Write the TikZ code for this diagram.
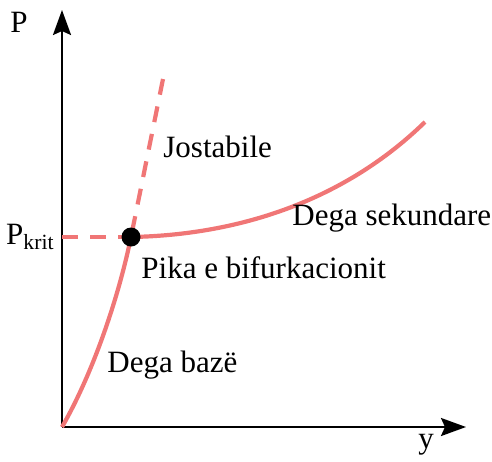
\documentclass[tikz,border=0pt]{standalone}
\usepackage{fontspec}
\setmainfont{Liberation Serif}
\usetikzlibrary{arrows.meta}
\definecolor{branchred}{RGB}{240,118,118}

\begin{document}
\begin{tikzpicture}[x=0.5pt, y=-0.5pt,
  axis/.style={line width=1.2pt, -{Stealth[length=12.5pt, width=9pt, inset=2pt]}},
  branch/.style={draw=branchred, line width=2.1pt},
  unstable/.style={draw=branchred, line width=2.1pt, dash pattern=on 8pt off 6pt},
  lbl/.style={font=\fontsize{15.5}{18}\selectfont, inner sep=0pt}
]
\useasboundingbox (0,0) rectangle (492,461);
% Axes
\coordinate (orig) at (62,427);
\coordinate (ytop) at (62,10);
\coordinate (xend) at (466,427);
\draw[axis] (orig) -- (ytop);
\draw[axis] (orig) -- (xend);
\node[lbl] (plbl) at (19,22) {P};
\node[lbl] (ylbl) at (426,445) {y};
% Bifurcation point and branches
\coordinate (bifpt) at (131,237);
\coordinate (pk) at (62,237);
\coordinate (dashtop) at (163,79);
\coordinate (secend) at (425,122);
\draw[unstable] (pk) -- (bifpt);
\draw[unstable] (dashtop) -- (bifpt);
\draw[branch] (orig) .. controls (92,375) and (118,300) .. (bifpt);
\draw[branch] (bifpt) .. controls (240,235) and (345,200) .. (secend);
\node[circle, fill=black, minimum size=9.5pt, inner sep=0pt] (bif) at (bifpt) {};
% Labels
\node[lbl, anchor=east] (pkrit) at (55,237) {P\textsubscript{krit}};
\node[lbl, anchor=west] (jost) at (163,147) {Jostabile};
\node[lbl, anchor=west] (sek) at (292,218) {Dega sekundare};
\node[lbl, anchor=west] (pika) at (141,268) {Pika e bifurkacionit};
\node[lbl, anchor=west] (baze) at (107,365) {Dega bazë};
\end{tikzpicture}
\end{document}
